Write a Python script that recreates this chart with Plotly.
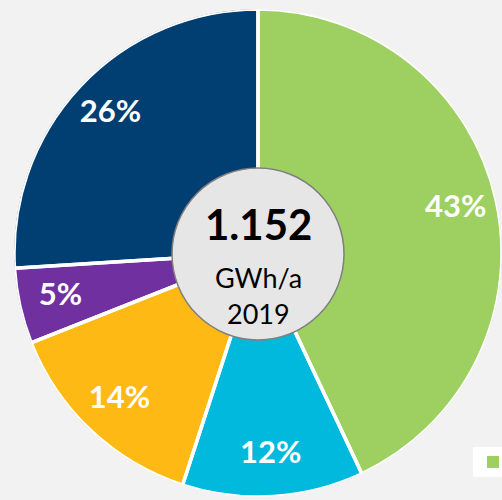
import numpy as np
import plotly.graph_objects as go

categories = ["Kategorie 1", "Kategorie 2", "Kategorie 3", "Kategorie 4", "Kategorie 5"]
shares = [43, 12, 14, 5, 26]
colors = ["#9DD060", "#00B9DD", "#FFB914", "#7030A0", "#013F72"]
total_value = "1.152"
unit = "GWh/a"
year = "2019"

W, H = 502, 500
ml, mr, mt, mb = 14, 0, 9, 3
pw = W - ml - mr
ph = H - mt - mb

share_arr = np.array(shares, dtype=float)
deg = share_arr / share_arr.sum() * 360.0
mid = np.cumsum(deg) - deg / 2.0

fig = go.Figure()
# coloured slices (no outline so the legend swatch is a full square)
fig.add_trace(go.Barpolar(
    r=[1] * len(shares),
    theta=mid,
    width=deg,
    customdata=categories,
    marker=dict(color=colors, line=dict(width=0)),
    name="Anteil",
    hovertemplate="%{customdata}<extra></extra>",
    showlegend=True,
))
# white slice separators / outer rim
fig.add_trace(go.Barpolar(
    r=[1] * len(shares),
    theta=mid,
    width=deg,
    marker=dict(color="rgba(0,0,0,0)", line=dict(color="white", width=3.5)),
    hoverinfo="skip",
    showlegend=False,
))
fig.add_trace(go.Scatterpolar(
    r=[0.83] * len(shares),
    theta=mid,
    mode="text",
    text=[f"{s}%" for s in shares],
    textfont=dict(family="Lato", size=31, color="white", weight="bold"),
    hoverinfo="skip",
    showlegend=False,
))

rc = 86 / pw
cy = (H - mb - 254) / ph
fig.add_shape(type="circle", xref="paper", yref="paper",
              x0=0.5 - rc, x1=0.5 + rc,
              y0=cy - 86 / ph, y1=cy + 86 / ph,
              fillcolor="#E6E6E6", line=dict(color="#7F7F7F", width=1.5), layer="above")

fig.add_annotation(text=f"<b>{total_value}</b>", x=0.5, y=(H - mb - 224) / ph,
                   xref="paper", yref="paper", showarrow=False,
                   font=dict(family="Lato", size=42, color="black"))
fig.add_annotation(text=unit, x=0.5, y=(H - mb - 277) / ph,
                   xref="paper", yref="paper", showarrow=False,
                   font=dict(family="Lato", size=27, color="black"))
fig.add_annotation(text=year, x=0.5, y=(H - mb - 313) / ph,
                   xref="paper", yref="paper", showarrow=False,
                   font=dict(family="Lato", size=27, color="black"))

fig.update_layout(
    width=W, height=H,
    margin=dict(l=ml, r=mr, t=mt, b=mb, autoexpand=False),
    paper_bgcolor="#F2F2F2",
    plot_bgcolor="#F2F2F2",
    polar=dict(
        domain=dict(x=[0, 1], y=[0, 1]),
        bgcolor="rgba(0,0,0,0)",
        bargap=0,
        barmode="overlay",
        radialaxis=dict(range=[0, 1], visible=False),
        angularaxis=dict(rotation=90, direction="clockwise", visible=False),
    ),
    showlegend=True,
    legend=dict(x=(473 - ml) / pw, y=(H - mb - 447) / ph, xanchor="left", yanchor="top",
                bgcolor="white", font=dict(size=13, family="Lato"),
                itemclick=False, itemdoubleclick=False),
)

fig.write_html("out.html", config={"displayModeBar": False},
               post_script="document.body.style.margin='0';document.body.style.background='#F2F2F2';")
